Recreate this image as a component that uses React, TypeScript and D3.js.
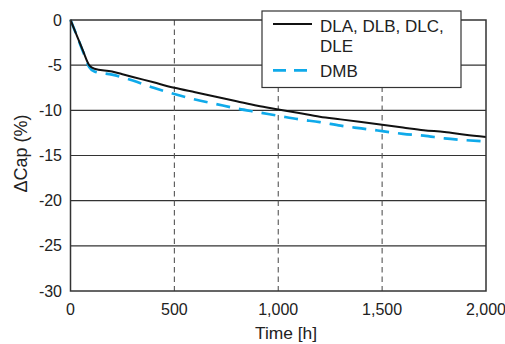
import React from "react";
import * as d3 from "d3";

const hours = [0, 30, 60, 90, 115, 200, 250, 300, 400, 500, 600, 700, 800, 900, 1000, 1100, 1200, 1300, 1400, 1500, 1600, 1700, 1800, 1900, 2000];
const dlaValues = [0, -1.7, -3.4, -5.0, -5.4, -5.7, -6.0, -6.3, -6.9, -7.5, -8.0, -8.5, -9.0, -9.5, -9.9, -10.3, -10.7, -11.0, -11.3, -11.6, -11.9, -12.2, -12.4, -12.7, -12.95];
const dmbValues = [0, -1.7, -3.5, -5.2, -5.7, -6.05, -6.35, -6.7, -7.5, -8.2, -8.8, -9.3, -9.8, -10.2, -10.6, -11.0, -11.3, -11.7, -12.0, -12.3, -12.6, -12.8, -13.1, -13.3, -13.45];
const xTicks = [0, 500, 1000, 1500, 2000];
const yTicks = [0, -5, -10, -15, -20, -25, -30];
const legendLabels = ["DLA, DLB, DLC,", "DLE", "DMB"];

const W = 505, H = 344;
const L = 70.5, R = 486, T = 20, B = 291;

export default function App() {
  const x = d3.scaleLinear().domain([0, 2000]).range([L, R]);
  const y = d3.scaleLinear().domain([0, -30]).range([T, B]);
  const line = d3.line<number>().x((_, i) => x(hours[i])).y((d) => y(d)).curve(d3.curveMonotoneX);
  const font = "'Liberation Sans', Arial, sans-serif";
  const blue = "#0faaea";
  return (
    <svg width={W} height={H} style={{ position: "absolute", left: 0, top: 0 }} fontFamily={font}>
      <rect width={W} height={H} fill="#fff" />
      {yTicks.filter((t) => t !== 0 && t !== -30).map((t) => (
        <line key={t} x1={L} x2={R} y1={y(t)} y2={y(t)} stroke="#333" strokeWidth={1.1} />
      ))}
      {xTicks.filter((t) => t !== 0 && t !== 2000).map((t) => (
        <line key={t} x1={x(t)} x2={x(t)} y1={T} y2={B} stroke="#555" strokeWidth={1.1} strokeDasharray="5.5,4" />
      ))}
      <path d={line(dmbValues) || ""} fill="none" stroke={blue} strokeWidth={2.7} strokeDasharray="14,9" />
      <path d={line(dlaValues) || ""} fill="none" stroke="#111" strokeWidth={2} />
      <rect x={L} y={T} width={R - L} height={B - T} fill="none" stroke="#333" strokeWidth={1.5} />
      {yTicks.map((t) => (
        <text key={t} x={62} y={y(t)} dy="0.35em" textAnchor="end" fontSize={16} fill="#222">{t}</text>
      ))}
      {xTicks.map((t) => (
        <text key={t} x={x(t)} y={309.5} dy="0.35em" textAnchor="middle" fontSize={16} fill="#222">{d3.format(",")(t)}</text>
      ))}
      <text x={286} y={339} textAnchor="middle" fontSize={17.4} fill="#222">Time [h]</text>
      <text transform={`translate(27,${153.5}) rotate(-90)`} textAnchor="middle" fontSize={18} fill="#222">ΔCap (%)</text>
      <g>
        <rect x={262} y={11} width={199} height={76.5} fill="#fff" stroke="#333" strokeWidth={1.2} />
        <line x1={273} x2={312} y1={24} y2={24} stroke="#111" strokeWidth={2} />
        <text x={320} y={31.5} fontSize={17} fill="#222">{legendLabels[0]}</text>
        <text x={320} y={51.5} fontSize={17} fill="#222">{legendLabels[1]}</text>
        <line x1={273} x2={312} y1={70.3} y2={70.3} stroke={blue} strokeWidth={2.7} strokeDasharray="13,8" />
        <text x={320} y={76.5} fontSize={17} fill="#222">{legendLabels[2]}</text>
      </g>
    </svg>
  );
}
